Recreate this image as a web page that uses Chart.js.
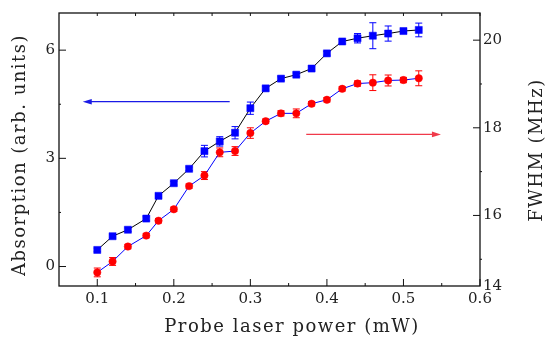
<!DOCTYPE html>
<html lang="en">
<head>
<meta charset="UTF-8">
<title>Absorption and FWHM vs probe laser power</title>
<script src="https://cdn.jsdelivr.net/npm/chart.js@4.4.0/dist/chart.umd.min.js"></script>
<style>
	html, body { margin: 0; padding: 0; background: #fff; }
	#wrap { width: 547px; height: 340px; }
</style>
</head>
<body>
<div id="wrap"><canvas id="chart"></canvas></div>
<script>

// data
var power = [0.10, 0.12, 0.14, 0.164, 0.18, 0.20, 0.22, 0.24, 0.26, 0.28, 0.30,
	0.32, 0.34, 0.36, 0.38, 0.40, 0.42, 0.44, 0.46, 0.48, 0.50, 0.52];
var absorption = [0.46, 0.84, 1.02, 1.33, 1.96, 2.31, 2.71, 3.20, 3.47, 3.71, 4.39,
	4.94, 5.21, 5.32, 5.49, 5.91, 6.24, 6.33, 6.40, 6.46, 6.53, 6.56];
var absorptionErr = [0.05, 0.05, 0.05, 0.05, 0.05, 0.05, 0.05, 0.16, 0.13, 0.17, 0.17,
	0.05, 0.05, 0.05, 0.05, 0.05, 0.05, 0.13, 0.36, 0.21, 0.05, 0.19];
var fwhm = [14.70, 14.95, 15.29, 15.54, 15.88, 16.14, 16.67, 16.91, 17.44, 17.47, 17.88,
	18.15, 18.33, 18.33, 18.55, 18.64, 18.89, 19.01, 19.03, 19.08, 19.09, 19.13];
var fwhmErr = [0.10, 0.09, 0.05, 0.05, 0.05, 0.05, 0.05, 0.09, 0.10, 0.10, 0.12,
	0.05, 0.06, 0.10, 0.05, 0.05, 0.05, 0.06, 0.18, 0.125, 0.06, 0.17];

// axes
var xMajor = [0.1, 0.2, 0.3, 0.4, 0.5, 0.6];
var xMinor = [0.15, 0.25, 0.35, 0.45, 0.55];
var leftMajor = [0, 3, 6];
var leftMinor = [1.5, 4.5];
var rightMajor = [16, 18, 20];
var rightMinor = [15, 17, 19];
var rightBottomLabel = '14';

var xRange = [0.05, 0.6];
var leftRange = [-0.54, 7.03];
var rightRange = [14.39, 20.62];

// arrows pointing to the axis each curve belongs to
var blueArrow = { from: 0.273, to: 0.081, at: 4.57, axis: 'y', color: '#1a1ae6' };
var redArrow = { from: 0.373, to: 0.549, at: 17.85, axis: 'y1', color: '#f03a4a' };

var textColor = '#222';
var tickFont = { family: 'DejaVu Serif', size: 15 };
var titleFont = '18px "DejaVu Serif"';

function ticksFrom(list) {
	return function(scale) {
		scale.ticks = list.map(function(v) { return { value: v }; });
	};
}

var extras = {
	id: 'extras',
	beforeDatasetsDraw: function(chart) {
		// error bars under the markers
		var ctx = chart.ctx;
		var xs = chart.scales.x;
		var sets = [
			{ y: absorption, e: absorptionErr, s: chart.scales.y, c: '#0000ff' },
			{ y: fwhm, e: fwhmErr, s: chart.scales.y1, c: '#ff0000' }
		];
		ctx.save();
		ctx.lineWidth = 1;
		sets.forEach(function(d) {
			ctx.strokeStyle = d.c;
			for (var i = 0; i < power.length; i++) {
				var px = xs.getPixelForValue(power[i]);
				var top = d.s.getPixelForValue(d.y[i] + d.e[i]);
				var bot = d.s.getPixelForValue(d.y[i] - d.e[i]);
				ctx.beginPath();
				ctx.moveTo(px, top); ctx.lineTo(px, bot);
				ctx.moveTo(px - 3.5, top); ctx.lineTo(px + 3.5, top);
				ctx.moveTo(px - 3.5, bot); ctx.lineTo(px + 3.5, bot);
				ctx.stroke();
			}
		});
		ctx.restore();
	},
	afterDraw: function(chart) {
		var ctx = chart.ctx;
		var a = chart.chartArea;
		var xs = chart.scales.x, yl = chart.scales.y, yr = chart.scales.y1;
		ctx.save();

		// frame
		ctx.strokeStyle = '#111';
		ctx.lineWidth = 1.3;
		ctx.strokeRect(a.left, a.top, a.right - a.left, a.bottom - a.top);

		// tick marks
		ctx.lineWidth = 1;
		ctx.beginPath();
		xMajor.concat(xMinor).forEach(function(v) {
			var p = xs.getPixelForValue(v);
			var len = xMajor.indexOf(v) >= 0 ? 7 : 3;
			ctx.moveTo(p, a.bottom); ctx.lineTo(p, a.bottom - len);
			ctx.moveTo(p, a.top); ctx.lineTo(p, a.top + 3);
		});
		leftMajor.forEach(function(v) {
			var p = yl.getPixelForValue(v);
			ctx.moveTo(a.left, p); ctx.lineTo(a.left + 7, p);
		});
		leftMinor.forEach(function(v) {
			var p = yl.getPixelForValue(v);
			ctx.moveTo(a.left, p); ctx.lineTo(a.left + 2, p);
		});
		rightMajor.forEach(function(v) {
			var p = yr.getPixelForValue(v);
			ctx.moveTo(a.right, p); ctx.lineTo(a.right - 7, p);
		});
		rightMinor.forEach(function(v) {
			var p = yr.getPixelForValue(v);
			ctx.moveTo(a.right, p); ctx.lineTo(a.right + 2, p);
		});
		ctx.stroke();

		// arrows
		[blueArrow, redArrow].forEach(function(ar) {
			var s = chart.scales[ar.axis];
			var y = s.getPixelForValue(ar.at);
			var x0 = xs.getPixelForValue(ar.from);
			var x1 = xs.getPixelForValue(ar.to);
			var dir = x1 > x0 ? 1 : -1;
			ctx.strokeStyle = ar.color;
			ctx.fillStyle = ar.color;
			ctx.lineWidth = 1.2;
			ctx.beginPath();
			ctx.moveTo(x0, y); ctx.lineTo(x1 - dir * 6, y);
			ctx.stroke();
			ctx.beginPath();
			ctx.moveTo(x1, y);
			ctx.lineTo(x1 - dir * 9, y - 2.8);
			ctx.lineTo(x1 - dir * 9, y + 2.8);
			ctx.closePath();
			ctx.fill();
		});

		// axis titles
		ctx.fillStyle = textColor;
		ctx.font = titleFont;
		ctx.letterSpacing = '1.5px';
		ctx.textAlign = 'center';
		ctx.textBaseline = 'middle';
		ctx.fillText('Probe laser power (mW)', 292, 327);
		ctx.translate(20, 155);
		ctx.rotate(-Math.PI / 2);
		ctx.fillText('Absorption (arb. units)', 0, 0);
		ctx.rotate(Math.PI / 2);
		ctx.translate(517, -5);
		ctx.rotate(-Math.PI / 2);
		ctx.fillText('FWHM (MHz)', 0, 0);
		ctx.restore();
	}
};

var ctx = document.getElementById('chart').getContext('2d');
var chart = new Chart(ctx, {
	type: 'line',
	data: {
		datasets: [{
			label: 'Absorption',
			data: power.map(function(p, i) { return { x: p, y: absorption[i] }; }),
			yAxisID: 'y',
			borderColor: '#000',
			borderWidth: 1,
			pointStyle: 'rect',
			pointRadius: 5,
			pointBackgroundColor: '#0000ff',
			pointBorderColor: '#0000ff',
			pointBorderWidth: 0.5
		}, {
			label: 'FWHM',
			data: power.map(function(p, i) { return { x: p, y: fwhm[i] }; }),
			yAxisID: 'y1',
			borderColor: '#0000ff',
			borderWidth: 1,
			pointStyle: 'circle',
			pointRadius: 3.7,
			pointBackgroundColor: '#ff0000',
			pointBorderColor: '#ff0000',
			pointBorderWidth: 0.5
		}]
	},
	options: {
		responsive: true,
		maintainAspectRatio: false,
		devicePixelRatio: 1,
		animation: false,
		layout: { padding: { top: 12, left: 0, right: 0, bottom: 0 } },
		plugins: { legend: { display: false }, tooltip: { enabled: false } },
		scales: {
			x: {
				type: 'linear',
				min: xRange[0], max: xRange[1],
				grid: { display: false, drawTicks: false },
				border: { display: false },
				afterBuildTicks: ticksFrom(xMajor),
				afterFit: function(s) { s.height = 54; },
				ticks: {
					font: tickFont, color: textColor, padding: 4, maxRotation: 0,
					callback: function(v) { return v.toFixed(1); }
				}
			},
			y: {
				position: 'left',
				min: leftRange[0], max: leftRange[1],
				grid: { display: false, drawTicks: false },
				border: { display: false },
				afterBuildTicks: ticksFrom(leftMajor),
				afterFit: function(s) { s.width = 59; },
				ticks: { font: tickFont, color: textColor, padding: 4 }
			},
			y1: {
				position: 'right',
				min: rightRange[0], max: rightRange[1],
				grid: { display: false, drawTicks: false },
				border: { display: false },
				afterBuildTicks: function(s) {
					s.ticks = [{ value: rightRange[0] }].concat(rightMajor.map(function(v) { return { value: v }; }));
				},
				afterFit: function(s) { s.width = 67; },
				ticks: {
					font: tickFont, color: textColor, padding: 3,
					callback: function(v) { return v === rightRange[0] ? rightBottomLabel : String(v); }
				}
			}
		}
	},
	plugins: [extras]
});
</script>
</body>
</html>
